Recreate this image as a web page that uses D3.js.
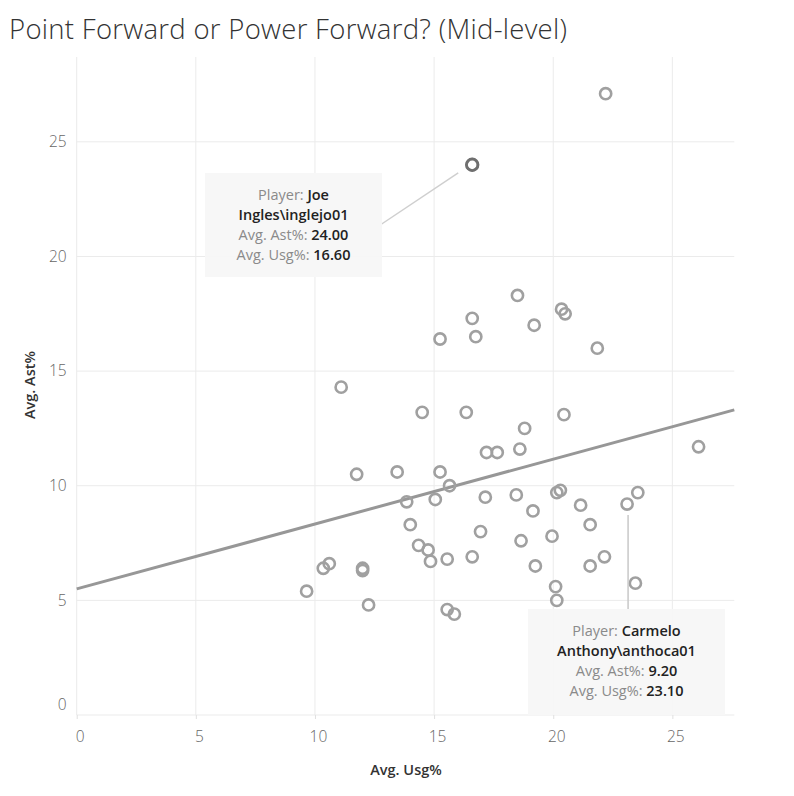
<!DOCTYPE html>
<html><head><meta charset="utf-8">
<script src="https://cdn.jsdelivr.net/npm/d3@7"></script>
<style>
body{margin:0;background:#fff;}
svg{display:block;font-family:"Open Sans",sans-serif;}
</style></head>
<body><svg id="c" width="794" height="796"></svg>
<script>
const title = "Point Forward or Power Forward? (Mid-level)";
const xTitle = "Avg. Usg%";
const yTitle = "Avg. Ast%";
const xTicks = [0,5,10,15,20,25];
const yTicks = [0,5,10,15,20,25];
const usg = [22.2,16.6,18.5,20.35,20.5,16.6,19.2,15.25,16.75,21.85,11.1,14.5,16.35,20.45,18.8,17.2,17.65,18.6,26.1,11.75,13.45,15.25,15.65,13.85,15.05,17.15,18.45,20.15,20.3,21.15,23.1,23.55,19.15,21.55,18.65,19.95,19.25,21.55,22.15,20.1,20.15,23.45,14.0,16.95,14.35,14.75,14.85,15.55,16.6,10.35,10.6,12.0,12.0,9.65,12.25,15.55,15.85];
const ast = [27.1,24.0,18.3,17.7,17.5,17.3,17.0,16.4,16.5,16.0,14.3,13.2,13.2,13.1,12.5,11.45,11.45,11.6,11.7,10.5,10.6,10.6,10.0,9.3,9.4,9.5,9.6,9.7,9.8,9.15,9.2,9.7,8.9,8.3,7.6,7.8,6.5,6.5,6.9,5.6,5.0,5.75,8.3,8.0,7.4,7.2,6.7,6.8,6.9,6.4,6.6,6.4,6.3,5.4,4.8,4.6,4.4];
const trendIntercept = 5.5;
const trendSlope = 0.283;
const tipPlayers = ["Joe Ingles\\inglejo01", "Carmelo Anthony\\anthoca01"];
const tipAst = [24.00, 9.20];
const tipUsg = [16.60, 23.10];

const svg = d3.select("#c");
const x = d3.scaleLinear().domain([0,27.6]).range([76.7,734.3]);
const y = d3.scaleLinear().domain([0,28.7]).range([715,57]);

svg.append("text").attr("x",9).attr("y",39).attr("font-size",27.5).attr("font-weight",300)
  .attr("fill","#333").attr("textLength",558).attr("lengthAdjust","spacing").text(title);

// gridlines
svg.append("g").selectAll("line").data(xTicks).join("line")
  .attr("x1",d=>x(d)).attr("x2",d=>x(d)).attr("y1",y.range()[1]).attr("y2",y(0))
  .attr("stroke","#ebebeb").attr("stroke-width",1);
svg.append("g").selectAll("line").data(yTicks).join("line")
  .attr("x1",x(0)).attr("x2",x.range()[1]).attr("y1",d=>y(d)).attr("y2",d=>y(d))
  .attr("stroke","#ebebeb").attr("stroke-width",1);

// axes labels
const xa = svg.append("g").attr("transform",`translate(0,${y(0)})`)
  .call(d3.axisBottom(x).tickValues(xTicks).tickSize(4).tickPadding(12));
xa.select(".domain").remove();
xa.selectAll(".tick line").attr("stroke","#e0e0e0");
xa.selectAll("text").attr("font-size",15.5).attr("fill","#666").attr("font-family","Open Sans").attr("font-weight",300).attr("dx",3);
const ya = svg.append("g").attr("transform",`translate(${x(0)},0)`)
  .call(d3.axisLeft(y).tickValues(yTicks).tickSize(0).tickPadding(10));
ya.select(".domain").remove();
ya.selectAll("text").attr("font-size",15.5).attr("fill","#666").attr("font-family","Open Sans").attr("font-weight",300)
  .attr("dy",d=>d===0?"-0.35em":"0.3em");

svg.append("text").attr("x",406).attr("y",775).attr("text-anchor","middle")
  .attr("font-size",14.5).attr("font-weight",600).attr("fill","#333").text(xTitle);
svg.append("text").attr("transform",`translate(35,385) rotate(-90)`).attr("text-anchor","middle")
  .attr("font-size",14.5).attr("font-weight",600).attr("fill","#333").text(yTitle);

// trend line
svg.append("line")
  .attr("x1",x(0)).attr("y1",y(trendIntercept))
  .attr("x2",x(27.6)).attr("y2",y(trendIntercept+trendSlope*27.6))
  .attr("stroke","#979797").attr("stroke-width",3);

// points
const pts = usg.map((u,i)=>({u,a:ast[i]}));
svg.append("g").selectAll("circle").data(pts).join("circle")
  .attr("cx",d=>x(d.u)).attr("cy",d=>y(d.a)).attr("r",5.6)
  .attr("fill","none").attr("stroke","#a0a0a0").attr("stroke-width",2.6);

// highlighted point
svg.append("circle").attr("cx",x(tipUsg[0])).attr("cy",y(tipAst[0])).attr("r",5.8)
  .attr("fill","none").attr("stroke","#6f6f6f").attr("stroke-width",2.8);

// tooltips
function tip(bx,by,bw,bh,lines){
  svg.append("rect").attr("x",bx).attr("y",by).attr("width",bw).attr("height",bh)
    .attr("fill","#f6f6f6").attr("opacity",0.92);
  const cx = bx+bw/2;
  lines.forEach((ln,i)=>{
    const t = svg.append("text").attr("x",cx).attr("y",by+27+i*20).attr("text-anchor","middle")
      .attr("font-size",14.5);
    t.append("tspan").attr("fill","#8a8a8a").text(ln[0]);
    t.append("tspan").attr("fill","#222").attr("font-weight",600).text(ln[1]);
  });
}
const [p1a,p1b] = tipPlayers[0].split(" ");
const [p2a,p2b] = tipPlayers[1].split(" ");
// connector lines
svg.append("line").attr("x1",381.7).attr("y1",224).attr("x2",x(tipUsg[0])-14).attr("y2",y(tipAst[0])+8)
  .attr("stroke","#cfcfcf").attr("stroke-width",1.5);
svg.append("line").attr("x1",x(tipUsg[1])+1).attr("y1",y(tipAst[1])+11).attr("x2",x(tipUsg[1])+1).attr("y2",609)
  .attr("stroke","#c8c8c8").attr("stroke-width",1.5);
tip(205,173,177,104,[["Player: ",p1a],["",p1b],["Avg. Ast%: ",tipAst[0].toFixed(2)],["Avg. Usg%: ",tipUsg[0].toFixed(2)]]);
tip(528,609,197,106,[["Player: ",p2a],["",p2b],["Avg. Ast%: ",tipAst[1].toFixed(2)],["Avg. Usg%: ",tipUsg[1].toFixed(2)]]);
</script></body></html>
